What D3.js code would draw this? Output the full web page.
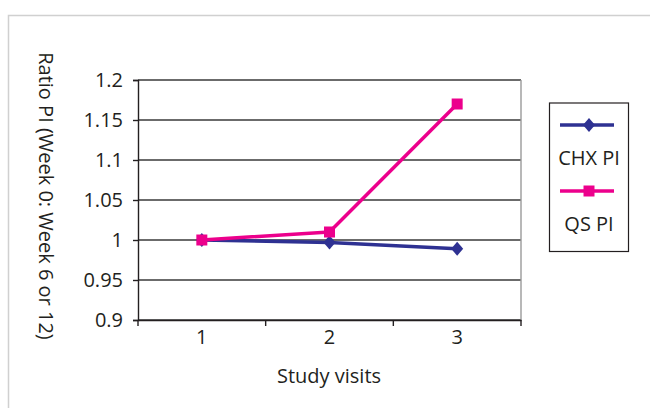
<!DOCTYPE html>
<html>
<head>
<meta charset="utf-8">
<script src="https://cdn.jsdelivr.net/npm/d3@7"></script>
<style>
  body { margin: 0; background: #fff; }
  text { font-family: "Open Sans", sans-serif; fill: #231f20; }
</style>
</head>
<body>
<div class="chart"></div>
<script>
// data
const visits = ["1", "2", "3"];
const chxPI = [1.0, 0.997, 0.989];
const qsPI = [1.0, 1.01, 1.17];
const yTicks = [0.9, 0.95, 1, 1.05, 1.1, 1.15, 1.2];

const W = 650, H = 408;
const plot = { left: 138, right: 521, top: 80, bottom: 320 };

const svg = d3.select(".chart")
  .append("svg")
  .attr("width", W)
  .attr("height", H);

// outer frame
svg.append("rect")
  .attr("x", 8.5).attr("y", 15.5)
  .attr("width", 700).attr("height", 500)
  .attr("fill", "none")
  .attr("stroke", "#d0d0d0")
  .attr("stroke-width", 1.5);

const xScale = d3.scaleBand()
  .domain(visits)
  .range([plot.left, plot.right]);

const yScale = d3.scaleLinear()
  .domain([0.9, 1.2])
  .range([plot.bottom, plot.top]);

// gridlines
svg.append("g")
  .selectAll("line")
  .data(yTicks)
  .join("line")
  .attr("x1", plot.left).attr("x2", plot.right)
  .attr("y1", d => yScale(d)).attr("y2", d => yScale(d))
  .attr("stroke", "#3a3a3a")
  .attr("stroke-width", 1.4);

// right border of plot area
svg.append("line")
  .attr("x1", plot.right).attr("x2", plot.right)
  .attr("y1", plot.top).attr("y2", plot.bottom)
  .attr("stroke", "#9a9a9a")
  .attr("stroke-width", 1.4);

// y axis
const yAxis = d3.axisLeft(yScale)
  .tickValues(yTicks)
  .tickSize(5)
  .tickPadding(10)
  .tickFormat(d => String(+d.toFixed(2)));

svg.append("g")
  .attr("class", "axis y-axis")
  .attr("transform", `translate(${plot.left},0)`)
  .call(yAxis)
  .call(g => g.select(".domain").attr("stroke", "#231f20").attr("stroke-width", 1.4))
  .call(g => g.selectAll(".tick line").attr("stroke", "#231f20").attr("stroke-width", 1.4))
  .call(g => g.selectAll(".tick text")
    .attr("font-size", 20)
    .attr("font-family", "Open Sans")
    .attr("fill", "#231f20"));

// x axis: ticks between categories
const xAxis = d3.axisBottom(xScale)
  .tickSize(0)
  .tickPadding(10);

svg.append("g")
  .attr("class", "axis x-axis")
  .attr("transform", `translate(0,${plot.bottom})`)
  .call(xAxis)
  .call(g => g.select(".domain").attr("stroke", "#231f20").attr("stroke-width", 1.4))
  .call(g => g.selectAll(".tick text")
    .attr("font-size", 20)
    .attr("font-family", "Open Sans")
    .attr("fill", "#231f20"));

const edges = visits.map(v => xScale(v)).concat([plot.right]);
svg.append("g")
  .selectAll("line")
  .data(edges)
  .join("line")
  .attr("x1", d => d).attr("x2", d => d)
  .attr("y1", plot.bottom).attr("y2", plot.bottom + 6)
  .attr("stroke", "#231f20")
  .attr("stroke-width", 1.4);

// axis titles
svg.append("text")
  .attr("transform", `translate(39,196) rotate(90)`)
  .attr("text-anchor", "middle")
  .attr("font-size", 20)
  .text("Ratio PI (Week 0: Week 6 or 12)");

svg.append("text")
  .attr("x", 329).attr("y", 383)
  .attr("text-anchor", "middle")
  .attr("font-size", 20)
  .text("Study visits");

// series
const cx = i => xScale(visits[i]) + xScale.bandwidth() / 2;
const line = d3.line()
  .x((d, i) => cx(i))
  .y(d => yScale(d));

const series = [
  { name: "CHX PI", values: chxPI, color: "#2e3192", size: 100, shape: "scale(0.85,1) rotate(45)" },
  { name: "QS PI", values: qsPI, color: "#ec008c", size: 121, shape: "" }
];

series.forEach(s => {
  svg.append("path")
    .datum(s.values)
    .attr("d", line)
    .attr("fill", "none")
    .attr("stroke", s.color)
    .attr("stroke-width", 3.5)
    .attr("stroke-linejoin", "round");

  svg.append("g")
    .selectAll("path")
    .data(s.values)
    .join("path")
    .attr("transform", (d, i) => `translate(${cx(i)},${yScale(d)}) ${s.shape}`)
    .attr("d", d3.symbol(d3.symbolSquare, s.size))
    .attr("fill", s.color);
});

// legend
const legend = svg.append("g");
legend.append("rect")
  .attr("x", 549.5).attr("y", 103)
  .attr("width", 79).attr("height", 148.5)
  .attr("fill", "#fff")
  .attr("stroke", "#231f20")
  .attr("stroke-width", 1.2);

series.forEach((s, i) => {
  const ly = 125 + i * 66;
  legend.append("line")
    .attr("x1", 560).attr("x2", 614)
    .attr("y1", ly).attr("y2", ly)
    .attr("stroke", s.color)
    .attr("stroke-width", 3.5);
  legend.append("path")
    .attr("transform", `translate(589,${ly}) ${s.shape}`)
    .attr("d", d3.symbol(d3.symbolSquare, s.size))
    .attr("fill", s.color);
  legend.append("text")
    .attr("x", 589).attr("y", ly + 40)
    .attr("text-anchor", "middle")
    .attr("font-size", 20)
    .text(s.name);
});
</script>
</body>
</html>
